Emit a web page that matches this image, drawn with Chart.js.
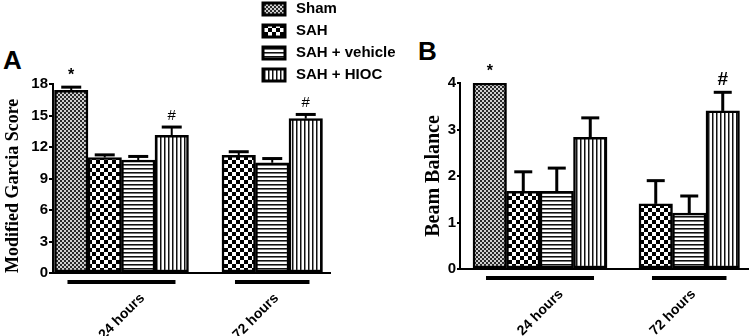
<!DOCTYPE html>
<html>
<head>
<meta charset="utf-8">
<script src="https://cdn.jsdelivr.net/npm/chart.js@4"></script>
<style>
  body { margin: 0; background: #fff; width: 750px; height: 336px; overflow: hidden; position: relative; }
  canvas { position: absolute; top: 0; }
  #chartA { left: 0; }
  #chartB { left: 400px; }
  .panel { position: absolute; font: bold 26px "Liberation Sans", Arial, sans-serif; line-height: 26px; color: #000; }
</style>
</head>
<body>
<div class="panel" style="left:3px; top:47px;">A</div>
<div class="panel" style="left:418px; top:38px;">B</div>
<canvas id="chartA" width="410" height="336"></canvas>
<canvas id="chartB" width="350" height="336"></canvas>
<script>
// two time points, four groups; empty Sham slot at 72 hours
const timePoints = ['24 hours', '72 hours'];
const groupNames = ['Sham', 'SAH', 'SAH + vehicle', 'SAH + HIOC'];

// A: modified Garcia score (mean and SEM)
const garciaSham = [17.4, null];
const garciaSAH = [11.0, 11.2];
const garciaVehicle = [10.75, 10.5];
const garciaHIOC = [13.1, 14.7];
const garciaShamErr = [0.3, null];
const garciaSAHErr = [0.25, 0.35];
const garciaVehicleErr = [0.35, 0.4];
const garciaHIOCErr = [0.8, 0.4];

// B: beam balance (mean and SEM)
const beamSham = [4.0, null];
const beamSAH = [1.67, 1.4];
const beamVehicle = [1.67, 1.2];
const beamHIOC = [2.83, 3.4];
const beamShamErr = [0, null];
const beamSAHErr = [0.42, 0.5];
const beamVehicleErr = [0.5, 0.37];
const beamHIOCErr = [0.42, 0.4];

// significance marks above the bars
const garciaShamMarks = ['*', ''];
const garciaHIOCMarks = ['#', '#'];
const beamShamMarks = ['*', ''];
const beamHIOCMarks = ['', '#'];
const noMarks = ['', ''];

Chart.defaults.color = '#000';
Chart.defaults.font.family = '"Liberation Sans", Arial, sans-serif';

function makePattern(w, h, bg, draw) {
  const c = document.createElement('canvas');
  c.width = w; c.height = h;
  const g = c.getContext('2d');
  g.fillStyle = bg;
  g.fillRect(0, 0, w, h);
  draw(g);
  return g.createPattern(c, 'repeat');
}

const fills = [
  makePattern(4, 4, '#d0d0d0', g => { g.fillStyle = '#2a2a2a'; g.fillRect(0, 0, 2, 2); g.fillRect(2, 2, 2, 2); }),
  makePattern(8, 8, '#fff', g => { g.fillStyle = '#000'; g.fillRect(0, 0, 4, 4); g.fillRect(4, 4, 4, 4); }),
  makePattern(4, 4, '#fff', g => { g.fillStyle = '#111'; g.fillRect(0, 0, 4, 1); g.fillStyle = '#777'; g.fillRect(0, 1, 4, 1); }),
  makePattern(4, 4, '#fff', g => { g.fillStyle = '#111'; g.fillRect(0, 0, 1, 4); g.fillStyle = '#888'; g.fillRect(1, 0, 1, 4); })
];

function makeDatasets(series, errors, marks) {
  return series.map((vals, k) => ({
    label: groupNames[k],
    data: vals.map((v, i) => ({ x: i, y: v })),
    errors: errors[k],
    marks: marks[k],
    backgroundColor: fills[k],
    borderColor: '#000',
    borderWidth: 2.5,
    borderSkipped: false,
    barThickness: 33.5
  }));
}

const errorBars = {
  id: 'errorBars',
  afterDatasetsDraw(chart, args, opts) {
    const { ctx } = chart;
    const y = chart.scales.y;
    ctx.save();
    ctx.strokeStyle = '#000';
    ctx.fillStyle = '#000';
    chart.data.datasets.forEach((ds, di) => {
      chart.getDatasetMeta(di).data.forEach((bar, i) => {
        const v = ds.data[i].y;
        if (v == null) return;
        const e = ds.errors[i] || 0;
        const top = y.getPixelForValue(v + e);
        if (e > 0) {
          ctx.lineWidth = opts.lineWidth;
          ctx.beginPath();
          ctx.moveTo(bar.x, bar.y);
          ctx.lineTo(bar.x, top);
          ctx.stroke();
          ctx.lineWidth = 3;
          ctx.beginPath();
          ctx.moveTo(bar.x - opts.capWidth / 2, top);
          ctx.lineTo(bar.x + opts.capWidth / 2, top);
          ctx.stroke();
        }
        const m = ds.marks[i];
        if (m) {
          ctx.font = m === '*' ? 'bold 16px "Liberation Sans", Arial, sans-serif' : opts.hashFont;
          ctx.textAlign = 'center';
          ctx.textBaseline = 'alphabetic';
          ctx.fillText(m, bar.x, top - 7);
        }
      });
    });
    ctx.restore();
  }
};

const groupLines = {
  id: 'groupLines',
  afterDraw(chart, args, opts) {
    const { ctx, chartArea } = chart;
    ctx.save();
    ctx.strokeStyle = '#000';
    ctx.lineWidth = 4;
    timePoints.forEach((t, i) => {
      let left = Infinity, right = -Infinity;
      chart.data.datasets.forEach((ds, di) => {
        if (ds.data[i].y == null) return;
        const bar = chart.getDatasetMeta(di).data[i];
        left = Math.min(left, bar.x - bar.width / 2);
        right = Math.max(right, bar.x + bar.width / 2);
      });
      const yy = chartArea.bottom + opts.gap;
      ctx.beginPath();
      ctx.moveTo(left + opts.inset, yy);
      ctx.lineTo(right - opts.inset, yy);
      ctx.stroke();
    });
    ctx.restore();
  }
};

const boxLegend = {
  id: 'boxLegend',
  afterDraw(chart, args, opts) {
    if (!opts.show) return;
    const { ctx } = chart;
    ctx.save();
    chart.data.datasets.forEach((ds, k) => {
      const top = opts.y + k * opts.spacing;
      ctx.fillStyle = ds.backgroundColor;
      ctx.fillRect(opts.x, top, 22, 12);
      ctx.strokeStyle = '#000';
      ctx.lineWidth = 3;
      ctx.strokeRect(opts.x, top, 22, 12);
      ctx.fillStyle = '#000';
      ctx.font = 'bold 15px "Liberation Sans", Arial, sans-serif';
      ctx.textAlign = 'left';
      ctx.textBaseline = 'middle';
      ctx.fillText(ds.label, opts.x + 33, top + 6);
    });
    ctx.restore();
  }
};

function makeChart(id, cfg) {
  return new Chart(document.getElementById(id), {
    type: 'bar',
    data: { datasets: makeDatasets(cfg.series, cfg.errors, cfg.marks) },
    options: {
      responsive: false,
      animation: false,
      layout: { padding: cfg.padding },
      plugins: {
        legend: { display: false },
        tooltip: { enabled: false },
        errorBars: { lineWidth: cfg.stemWidth, capWidth: cfg.capWidth, hashFont: cfg.hashFont },
        groupLines: { gap: 9, inset: 13 },
        boxLegend: cfg.legend
      },
      scales: {
        x: {
          type: 'linear',
          offset: false,
          min: cfg.xMin,
          max: cfg.xMax,
          afterBuildTicks: s => { s.ticks = timePoints.map((t, i) => ({ value: i })); },
          afterFit: s => { s.height = cfg.xHeight; },
          grid: { display: false },
          border: { display: true, color: '#000', width: 2 },
          ticks: {
            callback: v => timePoints[v],
            minRotation: 45,
            maxRotation: 45,
            labelOffset: 21,
            padding: 9,
            font: { size: 14, weight: 'bold' }
          }
        },
        y: {
          min: 0,
          max: cfg.yMax,
          afterFit: s => { s.width = cfg.yWidth; },
          grid: { drawOnChartArea: false, color: '#000', lineWidth: 2, tickLength: cfg.tickLength },
          border: { display: true, color: '#000', width: 2 },
          ticks: { stepSize: cfg.yStep, padding: 1, font: { size: 15, weight: 'bold' } },
          title: {
            display: true,
            text: cfg.yTitle,
            align: cfg.titleAlign,
            font: { family: '"Liberation Serif", "Times New Roman", serif', size: cfg.titleSize, weight: 'bold' },
            padding: { top: 3, bottom: 3 }
          }
        }
      }
    },
    plugins: [errorBars, groupLines, boxLegend]
  });
}

makeChart('chartA', {
  series: [garciaSham, garciaSAH, garciaVehicle, garciaHIOC],
  errors: [garciaShamErr, garciaSAHErr, garciaVehicleErr, garciaHIOCErr],
  marks: [garciaShamMarks, noMarks, noMarks, garciaHIOCMarks],
  padding: { left: 0, top: 84, right: 80, bottom: 0 },
  xMin: -0.511, xMax: 1.556, xHeight: 63,
  yMax: 18, yStep: 3, yWidth: 53, tickLength: 4,
  yTitle: 'Modified Garcia Score', titleSize: 18, titleAlign: 'start',
  stemWidth: 2, capWidth: 20, hashFont: '15px "Liberation Sans", Arial, sans-serif',
  legend: { show: true, x: 263, y: 3, spacing: 22 }
});

makeChart('chartB', {
  series: [beamSham, beamSAH, beamVehicle, beamHIOC],
  errors: [beamShamErr, beamSAHErr, beamVehicleErr, beamHIOCErr],
  marks: [beamShamMarks, noMarks, noMarks, beamHIOCMarks],
  padding: { left: 19, top: 83, right: 2, bottom: 0 },
  xMin: -0.604, xMax: 1.570, xHeight: 67,
  yMax: 4, yStep: 1, yWidth: 41, tickLength: 3,
  yTitle: 'Beam Balance', titleSize: 20, titleAlign: 'center',
  stemWidth: 3, capWidth: 18, hashFont: 'bold 19px "Liberation Sans", Arial, sans-serif',
  legend: { show: false }
});
</script>
</body>
</html>
